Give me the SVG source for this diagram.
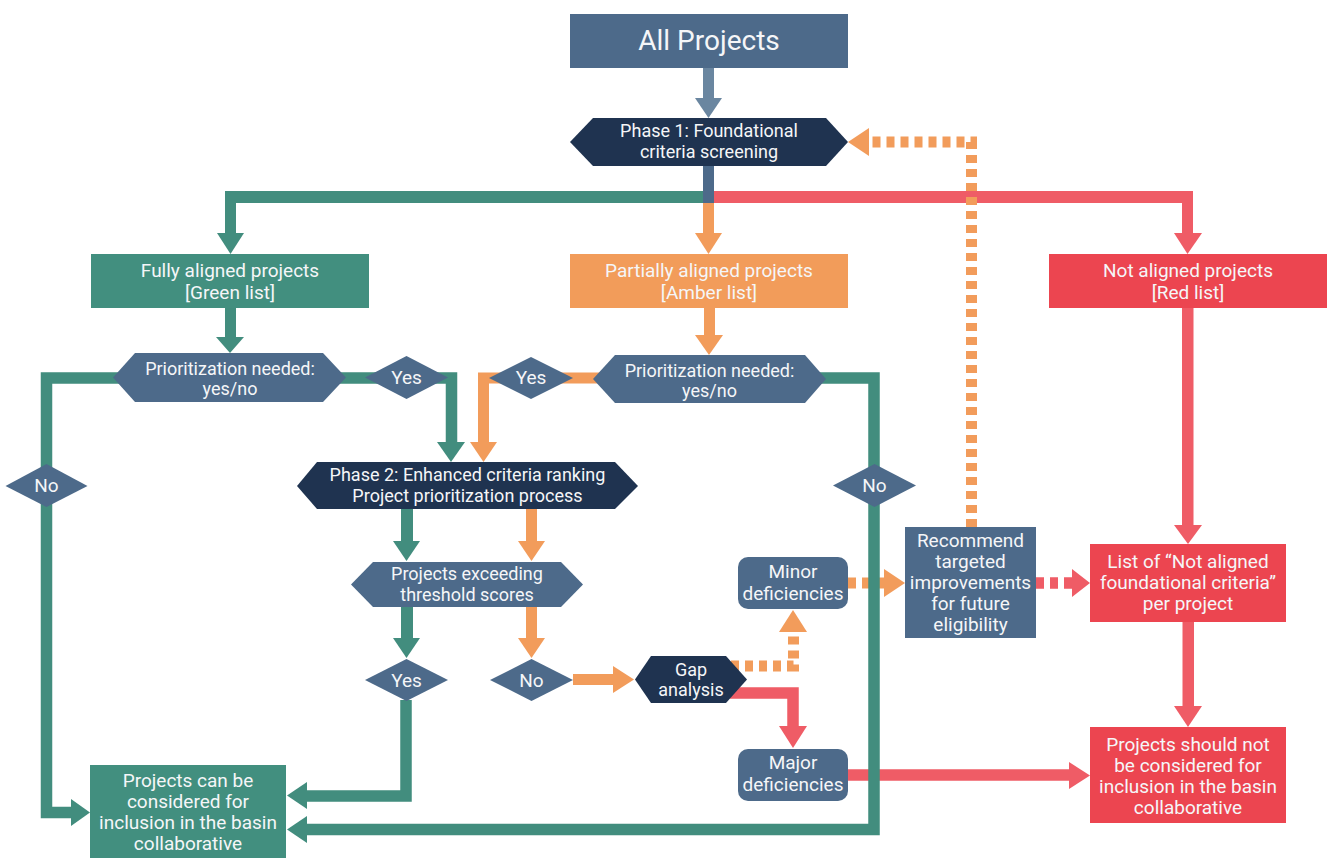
<svg xmlns="http://www.w3.org/2000/svg" width="1328" height="858" viewBox="0 0 1328 858">
<style>
.t{font-family:Roboto,"Liberation Sans",sans-serif;font-size:19px;fill:#F5F6F8;text-anchor:middle}
.s{font-size:18px}
.big{font-size:28px}
.slate{fill:#4D6A8A}
.navy{fill:#1F3350}
.gbox{fill:#428F7F}
.obox{fill:#F29C5A}
.rbox{fill:#EC4550}
.gf{fill:#428D7E}
.of{fill:#F29C5B}
.rf{fill:#EF5C66}
.sf{fill:#6A86A0}
.gs{fill:none;stroke:#428D7E;stroke-width:11.5;stroke-linejoin:miter}
.os{fill:none;stroke:#F29C5B;stroke-width:11;stroke-linejoin:miter}
.rs{fill:none;stroke:#EF5C66;stroke-width:11.5;stroke-linejoin:miter}
.d{stroke-dasharray:8 6}
</style>
<rect width="1328" height="858" fill="#FFFFFF"/>
<g id="connectors">
  <rect class="sf" x="703" y="68" width="11" height="30"/>
  <polygon class="sf" points="695,98 722,98 708.5,118"/>
  <rect class="gf" x="225" y="191" width="482" height="12"/>
  <rect class="rf" x="710" y="191" width="483" height="12"/>
  <rect class="slate" x="703" y="166" width="11" height="37"/>
  <rect class="gf" x="225" y="191" width="11" height="42"/>
  <polygon class="gf" points="217,233 244,233 230.5,254"/>
  <rect class="of" x="703" y="203" width="11" height="30"/>
  <polygon class="of" points="695,233 722,233 708.5,254"/>
  <rect class="rf" x="1182" y="191" width="11" height="42"/>
  <polygon class="rf" points="1174,233 1202,233 1187.5,254"/>
  <rect class="gf" x="225" y="308" width="11" height="29"/>
  <polygon class="gf" points="216,337 244,337 230,353"/>
  <rect class="of" x="704" y="308" width="11" height="27"/>
  <polygon class="of" points="695,335 723,335 709,355"/>
  <polyline class="gs" points="120,378 46.5,378 46.5,812.5 71,812.5"/>
  <polygon class="gf" points="71,799 71,826 90,812.5"/>
  <polyline class="gs" points="340,378 451.5,378 451.5,442"/>
  <polygon class="gf" points="437,442 465,442 451,462"/>
  <polyline class="os" points="600,378 483.5,378 483.5,442"/>
  <polygon class="of" points="470,442 497,442 483.5,462"/>
  <rect class="gf" x="401" y="509" width="12" height="32"/>
  <polygon class="gf" points="393,541 420,541 406.5,561"/>
  <rect class="of" x="526" y="509" width="11" height="32"/>
  <polygon class="of" points="518,541 545,541 531.5,561"/>
  <rect class="gf" x="401" y="607" width="12" height="31"/>
  <polygon class="gf" points="393,638 420,638 406.5,658"/>
  <rect class="of" x="526" y="607" width="11" height="31"/>
  <polygon class="of" points="518,638 545,638 531.5,658"/>
  <polyline class="gs" points="406,700 406,796 307,796"/>
  <polygon class="gf" points="307,782 307,809 287,795.5"/>
  <rect class="of" x="573" y="674" width="40" height="11"/>
  <polygon class="of" points="613,666 613,693 634,679.5"/>
  <polyline class="os d" points="731,666 793.5,666 793.5,632"/>
  <polygon class="of" points="779,632 807,632 793,610"/>
  <polyline class="rs" points="730,693 793,693 793,726"/>
  <polygon class="rf" points="779,726 807,726 793,748"/>
  <line class="os d" x1="848" y1="583" x2="884" y2="583"/>
  <polygon class="of" points="884,569 884,597 905,583"/>
  <line class="rs d" x1="1036" y1="583" x2="1072" y2="583"/>
  <polygon class="rf" points="1072,569 1072,597 1090,583"/>
  <polyline class="os d" points="971.5,527 971.5,142 869,142"/>
  <polygon class="of" points="869,128 869,156 848,142"/>
  <rect class="rf" x="1182" y="308" width="11.5" height="217"/>
  <polygon class="rf" points="1174,525 1202,525 1188,544"/>
  <rect class="rf" x="1182.5" y="622" width="11.5" height="84"/>
  <polygon class="rf" points="1174,706 1202,706 1188,727"/>
  <line class="rs" x1="848" y1="775" x2="1069" y2="775"/>
  <polygon class="rf" points="1069,762 1069,789 1090,775.5"/>
  <polyline class="gs" points="820,378 874,378 874,829.5 307,829.5"/>
  <polygon class="gf" points="307,816 307,843 287,829.5"/>
</g>
<g id="all-projects">
  <rect class="slate" x="570" y="14" width="278" height="54"/>
  <text class="t big" x="709" y="50">All Projects</text>
</g>
<g id="phase1">
  <polygon class="navy" points="570,142 593,118 826,118 848,142 826,166 593,166"/>
  <text class="t s" x="709" y="137">Phase 1: Foundational</text>
  <text class="t s" x="709" y="157.5">criteria screening</text>
</g>
<g id="green-list">
  <rect class="gbox" x="91" y="254" width="278" height="54"/>
  <text class="t" x="230" y="277">Fully aligned projects</text>
  <text class="t" x="230" y="299">[Green list]</text>
</g>
<g id="amber-list">
  <rect class="obox" x="570" y="254" width="278" height="54"/>
  <text class="t" x="709" y="277">Partially aligned projects</text>
  <text class="t" x="709" y="299">[Amber list]</text>
</g>
<g id="red-list">
  <rect class="rbox" x="1049" y="254" width="278" height="54"/>
  <text class="t" x="1188" y="277">Not aligned projects</text>
  <text class="t" x="1188" y="299">[Red list]</text>
</g>
<g id="prio-left">
  <polygon class="slate" points="113,377.5 135,353 323,353 346,377.5 323,402 135,402"/>
  <text class="t s" x="230" y="374.5">Prioritization needed:</text>
  <text class="t s" x="230" y="395">yes/no</text>
</g>
<g id="yes-left">
  <polygon class="slate" points="365,377.5 406.5,356 448,377.5 406.5,399"/>
  <text class="t" x="406.5" y="384">Yes</text>
</g>
<g id="no-left">
  <polygon class="slate" points="5.5,486 46.5,464 87.5,486 46.5,507"/>
  <text class="t" x="46.5" y="492">No</text>
</g>
<g id="prio-right">
  <polygon class="slate" points="593,379 615,355 805,355 826,379 805,403 615,403"/>
  <text class="t s" x="709.5" y="376.5">Prioritization needed:</text>
  <text class="t s" x="709.5" y="397">yes/no</text>
</g>
<g id="yes-mid">
  <polygon class="slate" points="489,378 531,357 573,378 531,399"/>
  <text class="t" x="531" y="384">Yes</text>
</g>
<g id="no-right">
  <polygon class="slate" points="833,485.5 874.5,464 916,485.5 874.5,507"/>
  <text class="t" x="874.5" y="492">No</text>
</g>
<g id="phase2">
  <polygon class="navy" points="297,486 317,462 615,462 638,486 615,509 317,509"/>
  <text class="t s" x="467.5" y="481">Phase 2: Enhanced criteria ranking</text>
  <text class="t s" x="467.5" y="501.5">Project prioritization process</text>
</g>
<g id="threshold">
  <polygon class="slate" points="351,584.5 373,562 561,562 583,584.5 561,607 373,607"/>
  <text class="t s" x="467" y="580">Projects exceeding</text>
  <text class="t s" x="467" y="600.5">threshold scores</text>
</g>
<g id="yes-threshold">
  <polygon class="slate" points="365,680 406.5,659 448,680 406.5,701"/>
  <text class="t" x="406.5" y="686.5">Yes</text>
</g>
<g id="no-threshold">
  <polygon class="slate" points="490,680 531.5,659 573,680 531.5,701"/>
  <text class="t" x="531.5" y="686.5">No</text>
</g>
<g id="gap-analysis">
  <polygon class="navy" points="635,679.5 651,656 726,656 747,679.5 726,703 651,703"/>
  <text class="t s" x="691" y="675.5">Gap</text>
  <text class="t s" x="691" y="696">analysis</text>
</g>
<g id="minor">
  <rect class="slate" x="738" y="557" width="110" height="52" rx="10"/>
  <text class="t" x="793" y="578">Minor</text>
  <text class="t" x="793" y="599.5">deficiencies</text>
</g>
<g id="major">
  <rect class="slate" x="738" y="749" width="110" height="52" rx="10"/>
  <text class="t" x="793" y="769">Major</text>
  <text class="t" x="793" y="790.5">deficiencies</text>
</g>
<g id="recommend">
  <rect class="slate" x="905" y="527" width="131" height="111"/>
  <text class="t" x="970.5" y="547">Recommend</text>
  <text class="t" x="970.5" y="568">targeted</text>
  <text class="t" x="970.5" y="589">improvements</text>
  <text class="t" x="970.5" y="610">for future</text>
  <text class="t" x="970.5" y="631">eligibility</text>
</g>
<g id="not-aligned-list">
  <rect class="rbox" x="1090" y="544" width="196" height="78"/>
  <text class="t" x="1188" y="568">List of “Not aligned</text>
  <text class="t" x="1188" y="589">foundational criteria”</text>
  <text class="t" x="1188" y="610">per project</text>
</g>
<g id="should-not">
  <rect class="rbox" x="1090" y="727" width="196" height="96"/>
  <text class="t" x="1188" y="751">Projects should not</text>
  <text class="t" x="1188" y="772">be considered for</text>
  <text class="t" x="1188" y="793">inclusion in the basin</text>
  <text class="t" x="1188" y="814">collaborative</text>
</g>
<g id="can-be">
  <rect class="gbox" x="90" y="765" width="196" height="93"/>
  <text class="t" x="188" y="787">Projects can be</text>
  <text class="t" x="188" y="808">considered for</text>
  <text class="t" x="188" y="829">inclusion in the basin</text>
  <text class="t" x="188" y="850">collaborative</text>
</g>
</svg>
